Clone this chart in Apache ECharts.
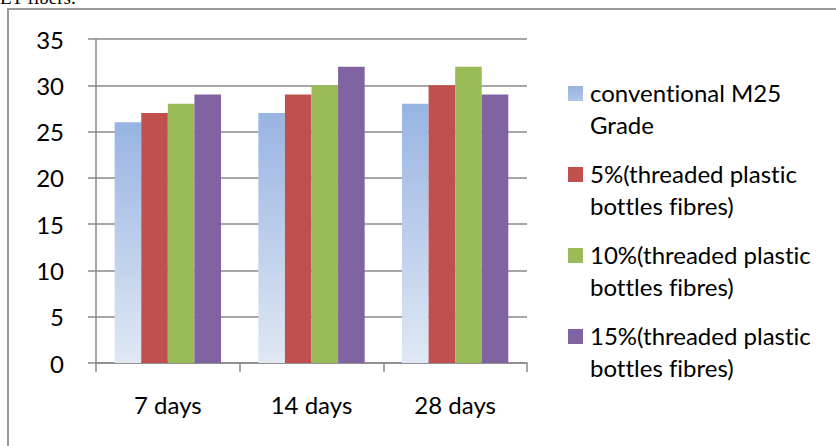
<!DOCTYPE html>
<html>
<head>
<meta charset="utf-8">
<script src="https://cdn.jsdelivr.net/npm/echarts@6/dist/echarts.min.js"></script>
<style>
  html, body { margin: 0; padding: 0; background: #fff; }
  #chart { width: 836px; height: 446px; }
  #chart text { font-variant-ligatures: none !important; font-feature-settings: "liga" 0, "dlig" 0 !important; }
</style>
</head>
<body>
<div id="chart"></div>
<script>
// Compressive strength by curing age
const categories = ['7 days', '14 days', '28 days'];
const seriesNames = [
  'conventional M25\nGrade',
  '5%(threaded plastic\nbottles fibres)',
  '10%(threaded plastic\nbottles fibres)',
  '15%(threaded plastic\nbottles fibres)'
];
const conventional = [26, 27, 28];
const fibre5 = [27, 29, 30];
const fibre10 = [28, 30, 32];
const fibre15 = [29, 32, 29];
const yTicks = { min: 0, max: 35, interval: 5 };

const FONT = 'Lato';
const AXIS_GREY = '#8a8a8a';

const seriesColors = [
  new echarts.graphic.LinearGradient(0, 0, 0, 1, [
    { offset: 0, color: '#97B4E2' },
    { offset: 1, color: '#E1E8F5' }
  ]),
  '#C0504D',
  '#9BBB59',
  '#8064A2'
];
const seriesValues = [conventional, fibre5, fibre10, fibre15];

const chart = echarts.init(document.getElementById('chart'), null, { renderer: 'svg' });

chart.setOption({
  backgroundColor: '#ffffff',
  animation: false,
  graphic: [
    {
      type: 'rect',
      shape: { x: 8, y: 9, width: 900, height: 500 },
      style: { fill: 'none', stroke: '#9a9a9a', lineWidth: 2 },
      silent: true
    },
    {
      type: 'text',
      x: 0,
      y: 7,
      style: {
        text: 'ET fibers.',
        font: '19px "Liberation Serif"',
        fill: '#000',
        verticalAlign: 'bottom'
      },
      silent: true
    }
  ],
  grid: {
    left: 96, top: 39, width: 431, height: 324,
    containLabel: false,
    outerBoundsMode: 'none'
  },
  legend: {
    orient: 'vertical',
    left: 568,
    top: 76,
    padding: 0,
    itemWidth: 15,
    itemHeight: 44,
    itemGap: 17,
    icon: 'path://M0,0H15V15H0Z M0,44L0.01,44Z',
    selectedMode: false,
    textStyle: { fontFamily: FONT, fontSize: 24, lineHeight: 32, color: '#000', padding: [0, 0, 0, 2] },
    data: seriesNames
  },
  xAxis: {
    type: 'category',
    data: categories,
    axisLine: { show: true, lineStyle: { color: AXIS_GREY, width: 1.5 } },
    axisTick: { show: true, length: 9, lineStyle: { color: AXIS_GREY, width: 1.5 } },
    axisLabel: { margin: 29, fontFamily: FONT, fontSize: 24, color: '#000' },
    splitLine: { show: false }
  },
  yAxis: {
    type: 'value',
    min: yTicks.min,
    max: yTicks.max,
    interval: yTicks.interval,
    axisLine: { show: true, lineStyle: { color: AXIS_GREY, width: 1.5 } },
    axisTick: { show: true, length: 8, lineStyle: { color: AXIS_GREY, width: 1.5 } },
    axisLabel: { margin: 32, fontFamily: FONT, fontSize: 24, color: '#000' },
    splitLine: { show: true, lineStyle: { color: AXIS_GREY, width: 1.5 } }
  },
  series: seriesNames.map((name, i) => ({
    name: name,
    type: 'bar',
    data: seriesValues[i],
    barGap: '0%',
    barCategoryGap: '26%',
    itemStyle: { color: seriesColors[i] }
  }))
});
</script>
</body>
</html>
